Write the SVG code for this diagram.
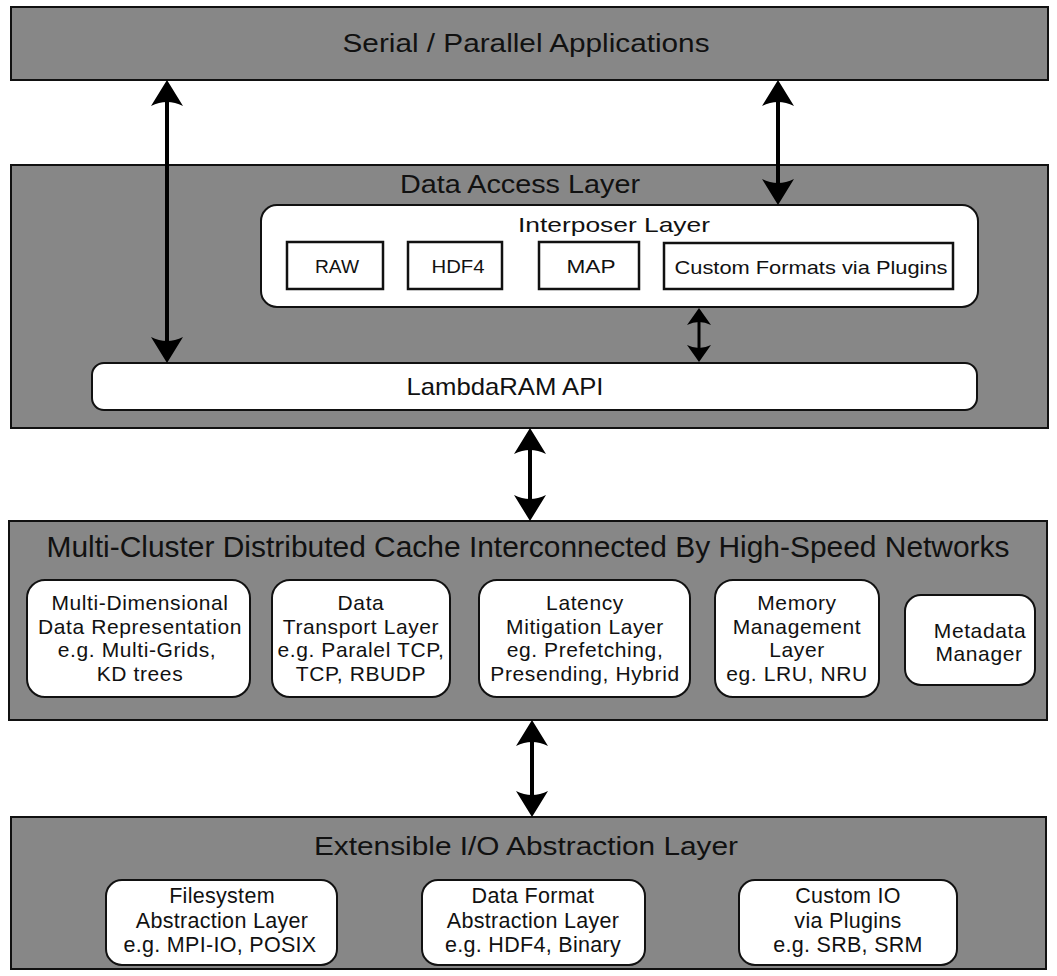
<svg xmlns="http://www.w3.org/2000/svg" width="1057" height="976" viewBox="0 0 1057 976">
<defs>
<style>
.layer{fill:#878787;stroke:#111;stroke-width:2}
.wbox{fill:#fff;stroke:#111;stroke-width:2}
.sbox{fill:#fff;stroke:#111;stroke-width:2.5}
text{font-family:"Liberation Sans",Arial,sans-serif;fill:#111;text-anchor:middle}
.t1{font-size:25px}
.t2{font-size:29px}
.t3{font-size:21px}
.tm{font-size:21px;letter-spacing:0.6px}
.tb{font-size:21.5px;letter-spacing:0.3px}
.t4{font-size:19px}
.conn{stroke:#000;stroke-width:4;fill:none}
.connS{stroke:#000;stroke-width:3;fill:none}
</style>
<marker id="ah" markerUnits="userSpaceOnUse" markerWidth="40" markerHeight="40" refX="11" refY="16" orient="auto-start-reverse" overflow="visible">
<path d="M26,16 L0,0 Q8,16 0,32 Z" fill="#000"/>
</marker>
<marker id="ahs" markerUnits="userSpaceOnUse" markerWidth="30" markerHeight="30" refX="8" refY="12" orient="auto-start-reverse" overflow="visible">
<path d="M17,12 L0,0 Q6,12 0,24 Z" fill="#000"/>
</marker>
</defs>

<g id="apps">
<rect class="layer" x="11" y="7" width="1037" height="73"/>
<text class="t1" x="526" y="52" textLength="367" lengthAdjust="spacingAndGlyphs">Serial / Parallel Applications</text>
</g>

<g id="data-access">
<rect class="layer" x="11" y="165" width="1037" height="263"/>
<text class="t1" x="520" y="193" textLength="240" lengthAdjust="spacingAndGlyphs">Data Access Layer</text>
</g>

<g id="interposer">
<rect class="wbox" x="261" y="205" width="717" height="102" rx="16"/>
<text class="t3" x="614" y="232" textLength="192" lengthAdjust="spacingAndGlyphs">Interposer Layer</text>
</g>
<g id="raw"><rect class="sbox" x="287" y="242" width="96" height="47"/><text class="t4" x="337" y="273" textLength="44" lengthAdjust="spacingAndGlyphs">RAW</text></g>
<g id="hdf4"><rect class="sbox" x="408" y="242" width="94" height="47"/><text class="t4" x="458" y="273" textLength="53" lengthAdjust="spacingAndGlyphs">HDF4</text></g>
<g id="map"><rect class="sbox" x="539" y="242" width="100" height="47"/><text class="t4" x="591" y="273" textLength="49" lengthAdjust="spacingAndGlyphs">MAP</text></g>
<g id="custom-formats"><rect class="sbox" x="664" y="243" width="289" height="46"/><text class="t4" x="811" y="274" textLength="273" lengthAdjust="spacingAndGlyphs">Custom Formats via Plugins</text></g>

<g id="lambdaram-api">
<rect class="wbox" x="92" y="363" width="885" height="47" rx="12"/>
<text class="t3" x="505" y="395" style="font-size:24px" textLength="197" lengthAdjust="spacingAndGlyphs">LambdaRAM API</text>
</g>

<g id="multi-cluster">
<rect class="layer" x="9" y="521" width="1038" height="199"/>
<text class="t2" x="528" y="557" textLength="963" lengthAdjust="spacingAndGlyphs">Multi-Cluster Distributed Cache Interconnected By High-Speed Networks</text>
</g>
<g id="mdr"><rect class="wbox" x="27" y="580" width="223" height="117" rx="18"/>
<text class="tm" x="140" y="610">Multi-Dimensional</text><text class="tm" x="140" y="634">Data Representation</text><text class="tm" x="137" y="657">e.g. Multi-Grids,</text><text class="tm" x="140" y="681">KD trees</text></g>
<g id="transport"><rect class="wbox" x="272" y="580" width="178" height="117" rx="18"/>
<text class="tm" x="361" y="610">Data</text><text class="tm" x="361" y="634">Transport Layer</text><text class="tm" x="361" y="657">e.g. Paralel TCP,</text><text class="tm" x="361" y="681">TCP, RBUDP</text></g>
<g id="latency"><rect class="wbox" x="479" y="580" width="211" height="117" rx="18"/>
<text class="tm" x="585" y="610">Latency</text><text class="tm" x="585" y="634">Mitigation Layer</text><text class="tm" x="585" y="657">eg. Prefetching,</text><text class="tm" x="585" y="681">Presending, Hybrid</text></g>
<g id="memory"><rect class="wbox" x="715" y="580" width="164" height="117" rx="18"/>
<text class="tm" x="797" y="610">Memory</text><text class="tm" x="797" y="634">Management</text><text class="tm" x="797" y="657">Layer</text><text class="tm" x="797" y="681">eg. LRU, NRU</text></g>
<g id="metadata"><rect class="wbox" x="905" y="595" width="130" height="90" rx="16"/>
<text class="tm" x="980" y="638">Metadata</text><text class="tm" x="979" y="661">Manager</text></g>

<g id="io-layer">
<rect class="layer" x="11" y="817" width="1035" height="152"/>
<text class="t1" x="526" y="855" style="font-size:26px" textLength="424" lengthAdjust="spacingAndGlyphs">Extensible I/O Abstraction Layer</text>
</g>
<g id="fs"><rect class="wbox" x="106" y="880" width="231" height="85" rx="16"/>
<text class="tb" x="222" y="903">Filesystem</text><text class="tb" x="222" y="928">Abstraction Layer</text><text class="tb" x="220" y="952">e.g. MPI-IO, POSIX</text></g>
<g id="df"><rect class="wbox" x="422" y="880" width="223" height="85" rx="16"/>
<text class="tb" x="533" y="903">Data Format</text><text class="tb" x="533" y="928">Abstraction Layer</text><text class="tb" x="533" y="952">e.g. HDF4, Binary</text></g>
<g id="cio"><rect class="wbox" x="739" y="880" width="218" height="85" rx="16"/>
<text class="tb" x="848" y="903">Custom IO</text><text class="tb" x="848" y="928">via Plugins</text><text class="tb" x="848" y="952">e.g. SRB, SRM</text></g>

<g id="connectors">
<line class="conn" x1="167" y1="95" x2="167" y2="348" marker-start="url(#ah)" marker-end="url(#ah)"/>
<line class="conn" x1="778" y1="95" x2="778" y2="190" marker-start="url(#ah)" marker-end="url(#ah)"/>
<line class="connS" x1="699" y1="317" x2="699" y2="353" marker-start="url(#ahs)" marker-end="url(#ahs)"/>
<line class="conn" x1="530" y1="443" x2="530" y2="506" marker-start="url(#ah)" marker-end="url(#ah)"/>
<line class="conn" x1="532" y1="735" x2="532" y2="802" marker-start="url(#ah)" marker-end="url(#ah)"/>
</g>
</svg>
